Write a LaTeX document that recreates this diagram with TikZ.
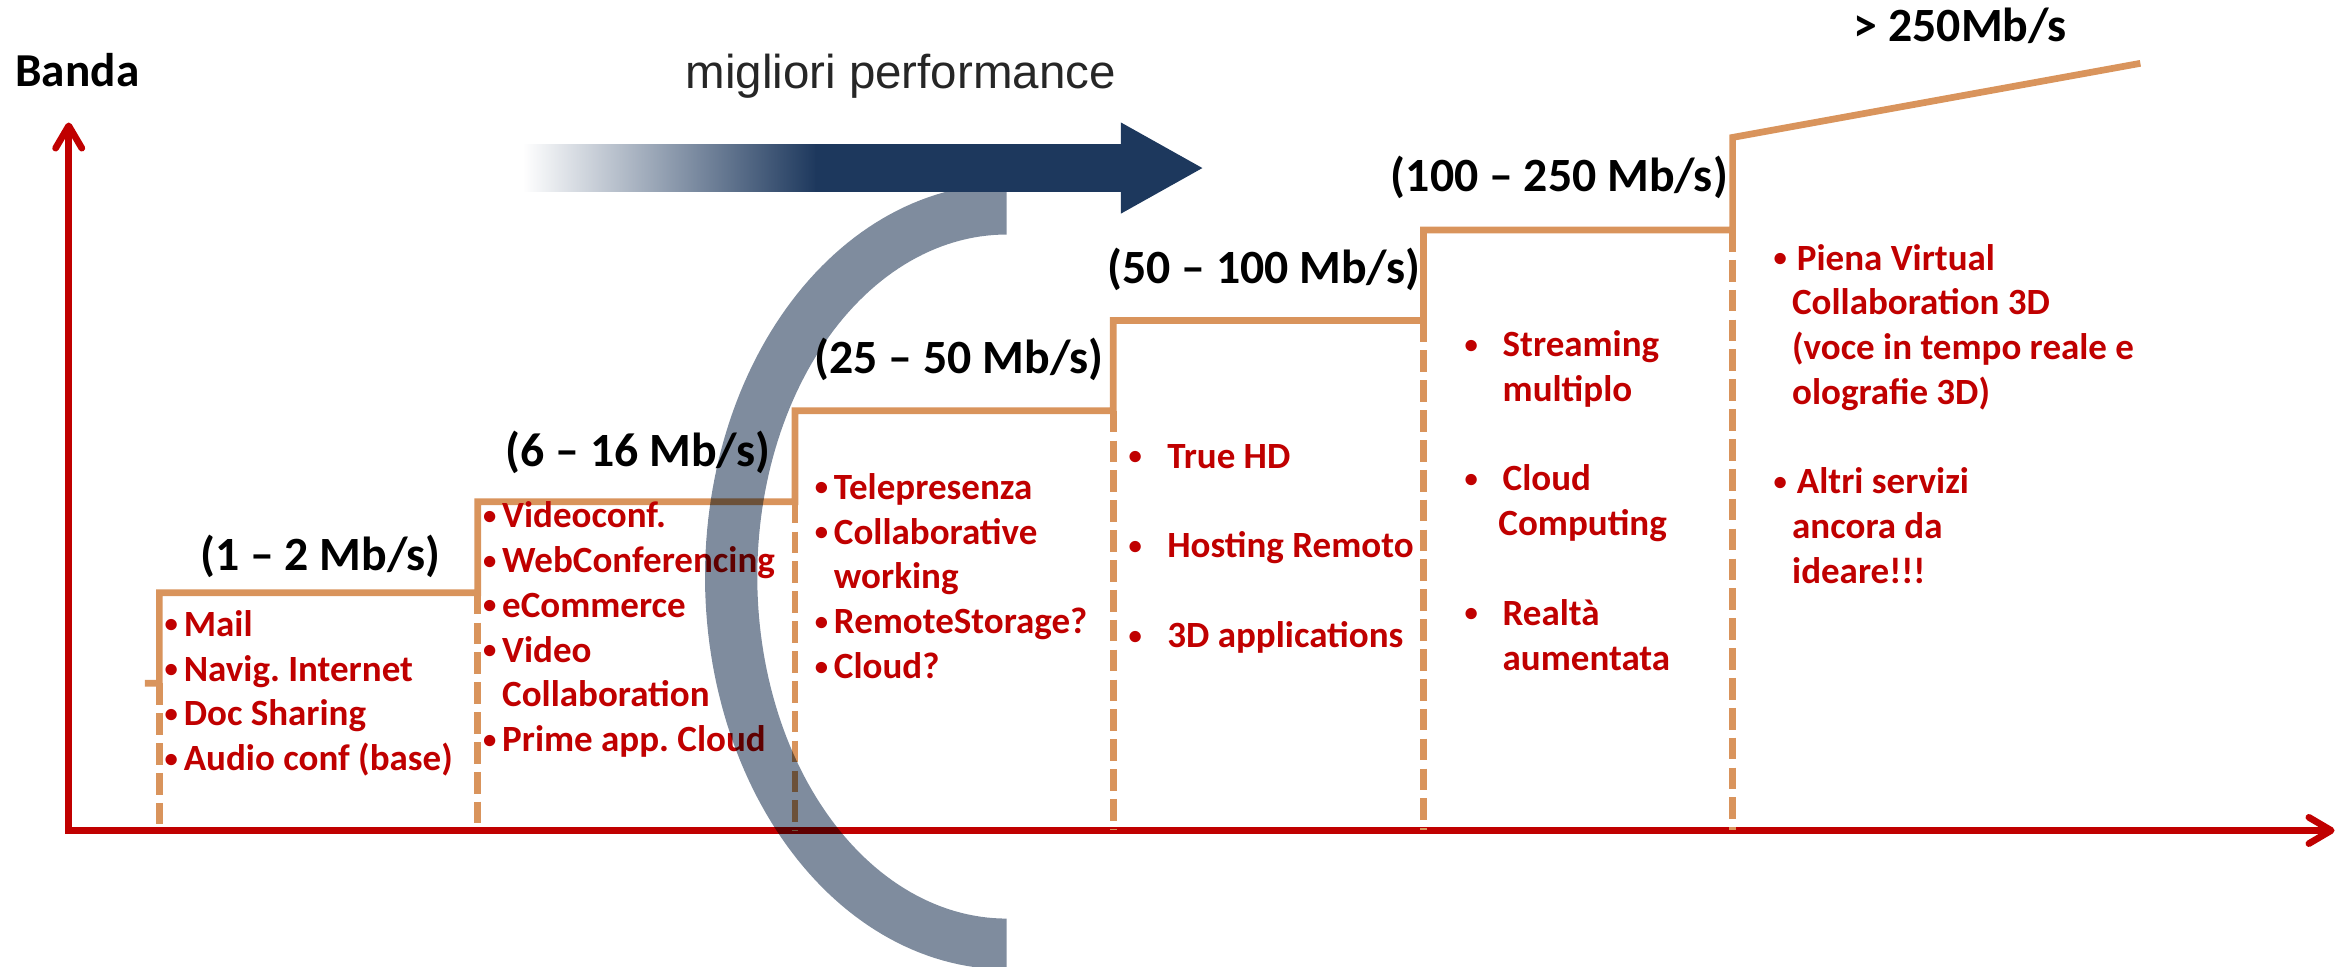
\documentclass[tikz,border=0pt]{standalone}
\usepackage{fontspec}
\usepackage{graphicx}
\setmainfont{Carlito}
\newfontfamily\arialf{Liberation Sans}
\usetikzlibrary{arrows.meta}
\definecolor{axred}{RGB}{192,0,0}
\definecolor{steporange}{RGB}{217,148,92}
\definecolor{navyarrow}{RGB}{29,56,93}
\definecolor{arcgray}{RGB}{127,140,158}
\definecolor{txtgray}{RGB}{38,38,38}
\newlength\uu \setlength\uu{0.02cm}
\newcommand\bul[1]{\makebox[#1\uu][c]{\raisebox{1.3pt}{\scalebox{0.72}{•}}}}
\newcommand\ind[1]{\hspace*{#1\uu}}
\frenchspacing
\begin{document}
\frenchspacing
\begin{tikzpicture}[x=0.02cm,y=-0.02cm,
  axisline/.style={draw=axred,line width=2.56pt,{Straight Barb[length=8.5pt,width=10pt,round]}-{Straight Barb[length=8.5pt,width=10pt,round]}},
  stepline/.style={draw=steporange,line width=2.56pt},
  dashline/.style={draw=steporange,line width=2.56pt,dash pattern=on 8.25pt off 3.13pt},
  lbl/.style={font=\bfseries\fontsize{18.2pt}{21pt}\selectfont,inner sep=0pt,anchor=base},
  redtxt/.style={font=\bfseries\fontsize{14.1pt}{17.07pt}\selectfont,text=axred,align=left,inner sep=0pt,anchor=base west}]
\useasboundingbox (0,0) rectangle (1568,647);

% axes
\coordinate (O) at (46,556);
\coordinate (ytip) at (46,82);
\coordinate (xtip) at (1563,556);
\draw[axisline] (ytip) -- (O) -- (xtip);

% step line
\coordinate (stub) at (97,457.5);
\coordinate (a0) at (106.7,457.5);
\coordinate (a1) at (106.7,396.8);
\coordinate (b0) at (319.8,396.8);
\coordinate (b1) at (319.8,335.9);
\coordinate (c0) at (532.3,335.9);
\coordinate (c1) at (532.3,275);
\coordinate (d0) at (745.3,275);
\coordinate (d1) at (745.3,214.6);
\coordinate (e0) at (953,214.6);
\coordinate (e1) at (953,154);
\coordinate (f0) at (1160,154);
\coordinate (f1) at (1160,92);
\coordinate (g) at (1433,42.4);
\draw[stepline] (stub) -- (a0) -- (a1) -- (b0) -- (b1) -- (c0) -- (c1) -- (d0) -- (d1) -- (e0) -- (e1) -- (f0) -- (f1) -- (g);
\foreach \p in {a0,b0,c0,d0,e0,f0}
  \draw[dashline] (\p) -- (\p |- O);

% titles
\node[font=\bfseries\fontsize{18pt}{21pt}\selectfont,inner sep=0pt,anchor=base west] (banda) at (10,58) {Banda};
\node[font=\arialf\fontsize{18.1pt}{21pt}\selectfont,text=txtgray,inner sep=0pt,anchor=base] (perf) at (603,59) {migliori performance};

% range labels
\node[lbl] (l1) at (214.5,382) {(1 – 2 Mb/s)};
\node[lbl] (l2) at (427,312) {(6 – 16 Mb/s)};
\node[lbl] (l3) at (642,250) {(25 – 50 Mb/s)};
\node[lbl] (l4) at (846,190) {(50 – 100 Mb/s)};
\node[lbl] (l5) at (1044,128.5) {(100 – 250 Mb/s)};
\node[lbl] (l6) at (1312.5,28) {> 250Mb/s};

% service lists (anchor = baseline of the last line)
\node[redtxt] (s1) at (105.9,516) {\bul{16.8}Mail\\\bul{16.8}Navig. Internet\\\bul{16.8}Doc Sharing\\\bul{16.8}Audio conf (base)};
\node[redtxt] (s2) at (319.1,503.3) {\bul{16.8}Videoconf.\\\bul{16.8}WebConferencing\\\bul{16.8}eCommerce\\\bul{16.8}Video\\\ind{16.8}Collaboration\\\bul{16.8}Prime app. Cloud};
\node[redtxt] (s3) at (541.2,454.2) {\bul{16.8}Telepresenza\\\bul{16.8}Collaborative\\\ind{16.8}working\\\bul{16.8}RemoteStorage?\\\bul{16.8}Cloud?};
\node[redtxt] (s4) at (738.2,433.5) {\bul{43}True HD\\[17.07pt]\bul{43}Hosting Remoto\\[17.07pt]\bul{43}3D applications};
\node[redtxt] (s5) at (963.7,448.6) {\bul{42}Streaming\\\ind{42}multiplo\\[17.07pt]\bul{42}Cloud\\\ind{39.2}Computing\\[17.07pt]\bul{42}Realtà\\\ind{42}aumentata};
\node[redtxt] (s6) at (1180.3,390.7) {\bul{22.4}Piena Virtual\\\ind{19.2}Collaboration 3D\\\ind{19.2}(voce in tempo reale e\\\ind{19.2}olografie 3D)\\[17.07pt]\bul{22.4}Altri servizi\\\ind{19.2}ancora da\\\ind{19.2}ideare!!!};

% grey crescent
\begin{scope}[blend mode=multiply]
\fill[arcgray] plot[domain=270:90,samples=120] ({674+202*cos(\x)},{386+263*sin(\x)})
  -- plot[domain=90:270,samples=120] ({674+167*cos(\x)},{386+229*sin(\x)}) -- cycle;
\end{scope}

% performance arrow
\shade[left color=white,right color=navyarrow] (350,96.5) rectangle (547,128.5);
\fill[navyarrow] (546,96.5) -- (750.5,96.5) -- (750.5,82) -- (805,112.5) -- (750.5,143) -- (750.5,128.5) -- (546,128.5) -- cycle;
\end{tikzpicture}
\end{document}
